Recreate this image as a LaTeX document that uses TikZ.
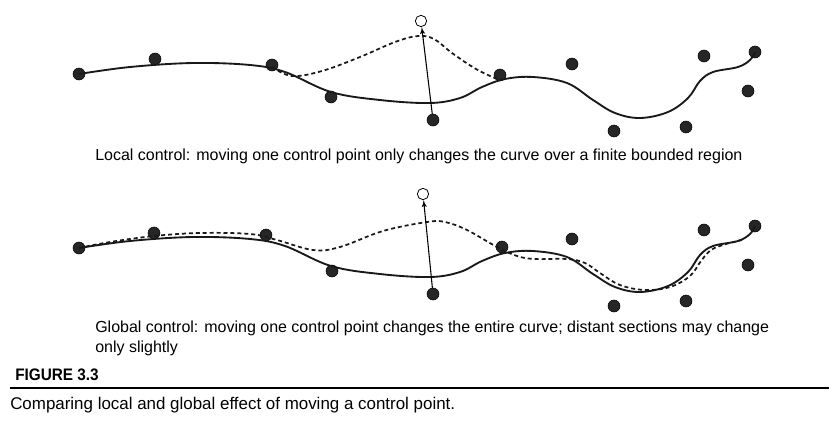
\documentclass[tikz,border=0pt]{standalone}
\usepackage{fontspec}
\setmainfont{Liberation Sans}
\newfontfamily\condfont[FakeStretch=0.92]{Liberation Sans}
\usepackage{tikz}
\usetikzlibrary{shapes,arrows}
\tikzstyle{ctrl} = [draw, fill=black!85, circle, inner sep=0pt, minimum size=9pt]
\tikzstyle{moved} = [draw, fill=white, circle, inner sep=0pt, minimum size=8.5pt, line width=0.6pt]
\tikzstyle{spline} = [line width=1.4pt, black!90, smooth, tension=0.6]
\tikzstyle{shifted} = [line width=1.3pt, black!90, dash pattern=on 3pt off 2.2pt, smooth, tension=0.6]
\tikzstyle{note} = [anchor=base west, inner sep=0pt, font=\fontsize{12}{14}\selectfont]

\begin{document}
\begin{tikzpicture}[x=0.75pt, y=-0.75pt, >=latex']
    \useasboundingbox (0,0) rectangle (838,426);

    % Local control: the control points first
    \node [ctrl] (a1) at (79,74) {};
    \node [ctrl] (a2) at (155,59) {};
    \node [ctrl] (a3) at (272,65) {};
    \node [ctrl] (a4) at (331,97) {};
    \node [ctrl] (a5) at (433,120) {};
    \node [ctrl] (a6) at (500,75) {};
    \node [ctrl] (a7) at (572,64) {};
    \node [ctrl] (a8) at (614,131) {};
    \node [ctrl] (a9) at (686,127) {};
    \node [ctrl] (a10) at (704,56) {};
    \node [ctrl] (a11) at (755,52) {};
    \node [ctrl] (a12) at (748,91) {};
    \node [moved] (amove) at (421,21) {};

    % the curve, and the piece that changes
    \draw [spline] plot coordinates {(a1.center) (130,67) (193,63) (250,65) (285,72)
        (331,92) (380,100) (430,103) (460,98) (482,87) (505,79) (533,77) (567,83)
        (593,100) (615,113) (640,118) (668,112) (688,98) (700,81) (713,72)
        (738,67) (750,60) (a11.center)};
    \draw [shifted] plot coordinates {(272,67) (292,76) (322,71) (360,57) (395,42)
        (418,36) (434,39) (452,53) (476,69) (497,79)};
    \draw [->, line width=0.8pt] (a5) -- (amove);

    \node [note] (localtxt) at (95,160)
        {Local control: moving one control point only changes the curve over a finite bounded region};

    % Global control
    \node [ctrl] (b1) at (79,248) {};
    \node [ctrl] (b2) at (154,233) {};
    \node [ctrl] (b3) at (266,235) {};
    \node [ctrl] (b4) at (332,271) {};
    \node [ctrl] (b5) at (433,294) {};
    \node [ctrl] (b6) at (502,247) {};
    \node [ctrl] (b7) at (572,239) {};
    \node [ctrl] (b8) at (614,306) {};
    \node [ctrl] (b9) at (686,301) {};
    \node [ctrl] (b10) at (704,230) {};
    \node [ctrl] (b11) at (755,226) {};
    \node [ctrl] (b12) at (748,265) {};
    \node [moved] (bmove) at (423,194) {};

    \draw [spline] plot coordinates {(b1.center) (130,241) (193,237) (250,239) (285,246)
        (331,266) (380,274) (430,277) (460,272) (482,261) (505,253) (533,251) (567,257)
        (593,274) (615,287) (640,292) (668,286) (688,272) (700,255) (713,246)
        (738,241) (750,234) (b11.center)};
    \draw [shifted] plot coordinates {(b1.center) (110,242) (154,236) (200,233) (250,234)
        (277,240) (313,250) (340,247) (383,231) (427,222) (445,222) (467,230)
        (497,247) (517,256) (535,259) (567,259) (585,263) (600,273) (620,285)
        (645,290) (670,287) (690,276) (701,261) (711,250) (726,244) (742,240)};
    \draw [->, line width=0.8pt] (b5) -- (bmove);

    \node [note] (globaltxt) at (95,332)
        {Global control: moving one control point changes the entire curve; distant sections may change};
    \node [note] (globaltxt2) at (95,352) {only slightly};

    % caption
    \node [anchor=base west, inner sep=0pt, font=\condfont\bfseries\fontsize{12.5}{14}\selectfont]
        (fig) at (15,380) {FIGURE 3.3};
    \coordinate (ruleL) at (10,388);
    \coordinate (ruleR) at (829,388);
    \draw [line width=0.8pt] (ruleL) -- (ruleR);
    \node [note, font=\fontsize{12.7}{14}\selectfont] (caption) at (10,409)
        {Comparing local and global effect of moving a control point.};
\end{tikzpicture}
\end{document}
